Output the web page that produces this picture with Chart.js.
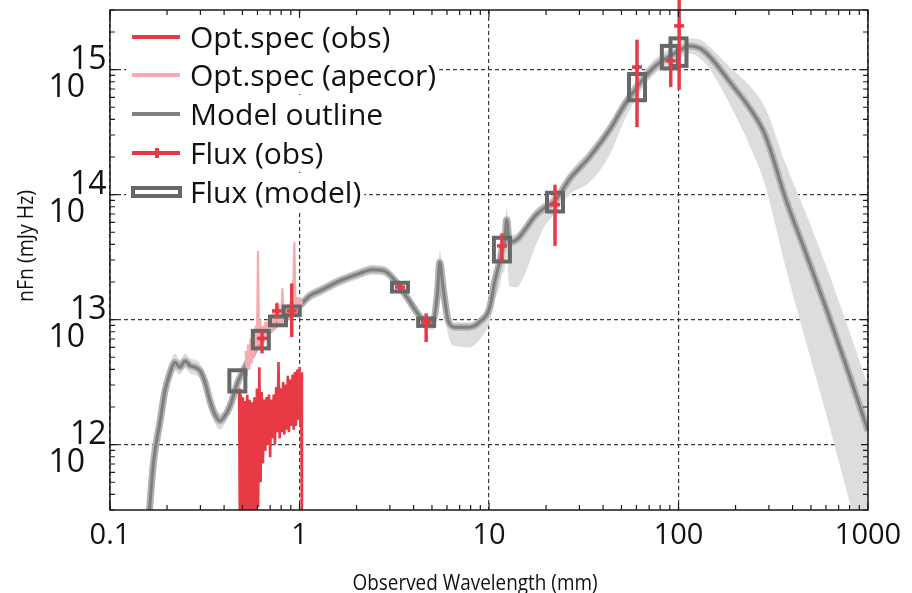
<!DOCTYPE html>
<html>
<head>
<meta charset="utf-8">
<script src="https://cdn.jsdelivr.net/npm/chart.js@4.4.1/dist/chart.umd.min.js"></script>
<style>
html, body { margin: 0; padding: 0; background: #fff; }
canvas { display: block; }
</style>
</head>
<body>
<canvas id="sed" width="912" height="593"></canvas>
<script>
// axis ticks
const xTickValues = [0.1, 1, 10, 100, 1000];
const xTickLabels = ['0.1', '1', '10', '100', '1000'];
const yTickExponents = [12, 13, 14, 15];

const seriesNames = ['Opt.spec (obs)', 'Opt.spec (apecor)', 'Model outline', 'Flux (obs)', 'Flux (model)'];

// model SED (wavelength in mm, log10 of nFn), with upper / lower band width in dex
const modelWl = [0.160, 0.170, 0.184, 0.195, 0.207, 0.220, 0.234, 0.249, 0.265, 0.280, 0.299, 0.317, 0.337, 0.358, 0.380, 0.404, 0.430, 0.470, 0.520, 0.580, 0.625, 0.700, 0.770, 0.850, 0.910, 1.00, 1.13, 1.28, 1.63, 2.08, 2.40, 2.80, 3.20, 3.39, 3.80, 4.30, 4.66, 5.10, 5.35, 5.50, 5.70, 6.10, 6.60, 7.90, 8.90, 10.1, 10.7, 11.4, 11.7, 12.1, 12.4, 12.8, 14.0, 15.5, 17.5, 19.5, 22.3, 26.5, 33.9, 43.4, 52.0, 60.4, 70.0, 80.0, 91.0, 100, 115, 130, 147, 187, 238, 286, 369, 465, 608, 784, 1000];
const modelLogF = [11.40, 11.87, 12.19, 12.43, 12.57, 12.66, 12.62, 12.67, 12.63, 12.62, 12.59, 12.50, 12.35, 12.24, 12.19, 12.23, 12.31, 12.49, 12.63, 12.76, 12.84, 12.92, 12.98, 13.03, 13.07, 13.11, 13.19, 13.23, 13.31, 13.37, 13.40, 13.39, 13.31, 13.26, 13.15, 13.03, 12.98, 13.00, 13.22, 13.46, 13.28, 12.99, 12.94, 12.94, 12.98, 13.10, 13.30, 13.47, 13.56, 13.62, 13.80, 13.62, 13.64, 13.72, 13.83, 13.89, 13.95, 14.12, 14.30, 14.52, 14.72, 14.86, 14.98, 15.06, 15.11, 15.15, 15.19, 15.17, 15.10, 14.90, 14.69, 14.48, 13.96, 13.55, 13.07, 12.59, 12.11];
const modelUp = [0.06, 0.06, 0.06, 0.06, 0.07, 0.07, 0.06, 0.06, 0.06, 0.06, 0.06, 0.06, 0.06, 0.06, 0.06, 0.05, 0.05, 0.05, 0.05, 0.05, 0.05, 0.04, 0.04, 0.04, 0.04, 0.04, 0.04, 0.04, 0.04, 0.04, 0.04, 0.04, 0.04, 0.04, 0.04, 0.04, 0.04, 0.05, 0.08, 0.10, 0.08, 0.05, 0.04, 0.04, 0.04, 0.05, 0.08, 0.08, 0.08, 0.10, 0.10, 0.06, 0.05, 0.05, 0.05, 0.05, 0.06, 0.06, 0.06, 0.06, 0.06, 0.06, 0.06, 0.06, 0.06, 0.06, 0.06, 0.07, 0.08, 0.12, 0.18, 0.22, 0.28, 0.32, 0.34, 0.35, 0.36];
const modelDn = [0.06, 0.06, 0.07, 0.07, 0.07, 0.07, 0.06, 0.06, 0.06, 0.06, 0.06, 0.06, 0.06, 0.07, 0.07, 0.06, 0.05, 0.05, 0.05, 0.05, 0.05, 0.04, 0.04, 0.04, 0.04, 0.04, 0.04, 0.04, 0.04, 0.04, 0.04, 0.04, 0.04, 0.04, 0.05, 0.05, 0.06, 0.08, 0.10, 0.10, 0.10, 0.12, 0.15, 0.16, 0.14, 0.12, 0.15, 0.20, 0.20, 0.22, 0.30, 0.35, 0.38, 0.35, 0.25, 0.15, 0.10, 0.12, 0.20, 0.20, 0.12, 0.08, 0.06, 0.06, 0.06, 0.06, 0.06, 0.08, 0.10, 0.18, 0.30, 0.40, 0.55, 0.70, 0.85, 1.00, 1.10];

// optical spectrum, observed
const specObsWl = [0.480, 0.485, 0.490, 0.496, 0.502, 0.508, 0.515, 0.522, 0.530, 0.537, 0.545, 0.553, 0.561, 0.569, 0.578, 0.587, 0.596, 0.605, 0.614, 0.623, 0.632, 0.641, 0.650, 0.660, 0.670, 0.680, 0.690, 0.700, 0.710, 0.720, 0.731, 0.742, 0.753, 0.764, 0.775, 0.786, 0.797, 0.808, 0.820, 0.832, 0.844, 0.856, 0.868, 0.880, 0.893, 0.906, 0.919, 0.932, 0.945, 0.958, 0.972, 0.986, 1.000, 1.010, 1.020, 1.030];
const specObsLogF = [12.45, 11.2, 12.40, 11.3, 12.38, 11.2, 12.35, 11.4, 12.40, 11.3, 12.36, 11.3, 12.34, 11.4, 12.38, 11.2, 12.45, 11.5, 12.62, 11.7, 12.42, 11.85, 12.36, 11.95, 12.38, 12.0, 12.40, 11.9, 12.36, 12.05, 12.40, 12.0, 12.46, 12.1, 12.66, 12.05, 12.45, 12.1, 12.50, 12.08, 12.48, 12.12, 12.55, 12.1, 12.52, 12.15, 12.56, 12.12, 12.58, 12.15, 12.60, 12.2, 12.62, 12.15, 12.58, 11.2];

// optical spectrum, aperture corrected
const specApeWl = [0.520, 0.527, 0.535, 0.543, 0.552, 0.560, 0.569, 0.578, 0.587, 0.596, 0.604, 0.612, 0.621, 0.630, 0.640, 0.650, 0.660, 0.670, 0.681, 0.692, 0.703, 0.714, 0.726, 0.738, 0.750, 0.762, 0.774, 0.786, 0.799, 0.812, 0.825, 0.838, 0.852, 0.866, 0.880, 0.894, 0.909, 0.924, 0.939, 0.954, 0.970, 0.986, 1.000, 1.015, 1.030];
const specApeLogF = [12.75, 12.55, 12.80, 12.60, 12.85, 12.65, 12.92, 12.70, 12.95, 12.75, 13.55, 12.80, 13.00, 12.80, 12.95, 12.82, 12.98, 12.85, 13.00, 12.88, 13.02, 12.90, 13.06, 12.92, 13.05, 13.14, 12.95, 13.05, 12.95, 13.25, 12.98, 13.10, 13.00, 13.12, 13.00, 13.14, 13.02, 13.15, 13.62, 13.05, 13.18, 13.05, 13.18, 13.08, 13.15];

// photometry with error bars
const fluxWl = [0.634, 0.76, 0.91, 3.39, 4.66, 11.7, 22.3, 60.4, 91.0, 100.8];
const fluxLogF = [12.85, 13.07, 13.07, 13.26, 12.98, 13.59, 13.92, 15.02, 15.07, 15.35];
const fluxLogLo = [12.73, 13.01, 12.86, 13.24, 12.82, 13.46, 13.59, 14.54, 14.86, 14.84];
const fluxLogHi = [12.91, 13.13, 13.29, 13.28, 13.05, 13.69, 14.08, 15.24, 15.10, 15.56];

// model photometry (box centre and half height in dex)
const modelFluxWl = [0.47, 0.625, 0.77, 0.91, 3.39, 4.66, 11.7, 22.3, 60.4, 90.0, 100.0];
const modelFluxLogF = [12.51, 12.84, 12.99, 13.07, 13.26, 12.98, 13.56, 13.94, 14.86, 15.10, 15.14];
const modelFluxHalf = [0.085, 0.07, 0.035, 0.035, 0.035, 0.03, 0.095, 0.075, 0.105, 0.09, 0.11];

const RED = '#e73a44';
const PINK = '#f4acb0';
const BOXGREY = '#676767';
const FONT = '"Open Sans", "Noto Sans", sans-serif';

function toPoints(xs, logs, shift) {
    return xs.map((v, i) => ({ x: v, y: Math.pow(10, logs[i] + (shift ? shift[i] : 0)) }));
}
const negDn = modelDn.map(d => -d);

function logTicks(min, max) {
    const out = [];
    for (let e = Math.floor(Math.log10(min)); e <= Math.ceil(Math.log10(max)); e++) {
        for (let m = 1; m < 10; m++) {
            const v = m * Math.pow(10, e);
            if (v >= min * 0.999 && v <= max * 1.001) out.push({ value: v, major: m === 1 });
        }
    }
    return out;
}
const isDecade = v => Math.abs(Math.log10(v) - Math.round(Math.log10(v))) < 1e-6;

const sedDecor = {
    id: 'sedDecor',
    afterDatasetsDraw(chart) {
        const { ctx, chartArea: a, scales: { x, y } } = chart;
        ctx.save();
        // model fluxes as hollow boxes
        ctx.save();
        ctx.beginPath();
        ctx.rect(a.left, a.top, a.right - a.left, a.bottom - a.top);
        ctx.clip();
        ctx.strokeStyle = BOXGREY;
        ctx.lineWidth = 4;
        for (let i = 0; i < modelFluxWl.length; i++) {
            const px = x.getPixelForValue(modelFluxWl[i]);
            const top = y.getPixelForValue(Math.pow(10, modelFluxLogF[i] + modelFluxHalf[i]));
            const bot = y.getPixelForValue(Math.pow(10, modelFluxLogF[i] - modelFluxHalf[i]));
            ctx.strokeRect(px - 8, top, 16, bot - top);
        }
        ctx.restore();
        // error bars on the observed fluxes
        ctx.strokeStyle = RED;
        ctx.lineWidth = 3.5;
        for (let i = 0; i < fluxWl.length; i++) {
            const px = x.getPixelForValue(fluxWl[i]);
            const top = Math.max(0, y.getPixelForValue(Math.pow(10, fluxLogHi[i])));
            const bot = y.getPixelForValue(Math.pow(10, fluxLogLo[i]));
            ctx.beginPath();
            ctx.moveTo(px, top);
            ctx.lineTo(px, bot);
            ctx.stroke();
            const py = y.getPixelForValue(Math.pow(10, fluxLogF[i]));
            ctx.beginPath();
            ctx.moveTo(px - 5, py);
            ctx.lineTo(px + 5, py);
            ctx.stroke();
        }
        ctx.restore();
    },
    afterDraw(chart) {
        const { ctx, chartArea: a, scales: { x, y } } = chart;
        ctx.save();
        // frame
        ctx.strokeStyle = '#1a1a1a';
        ctx.lineWidth = 1.5;
        ctx.strokeRect(a.left, a.top, a.right - a.left, a.bottom - a.top);
        // inward ticks on all four sides
        ctx.lineWidth = 1.2;
        ctx.beginPath();
        x.ticks.forEach(t => {
            const px = x.getPixelForValue(t.value);
            const len = isDecade(t.value) ? 7 : 5;
            ctx.moveTo(px, a.bottom); ctx.lineTo(px, a.bottom - len);
            ctx.moveTo(px, a.top); ctx.lineTo(px, a.top + len);
        });
        y.ticks.forEach(t => {
            const py = y.getPixelForValue(t.value);
            const len = isDecade(t.value) ? 7 : 5;
            ctx.moveTo(a.left, py); ctx.lineTo(a.left + len, py);
            ctx.moveTo(a.right, py); ctx.lineTo(a.right - len, py);
        });
        ctx.stroke();

        // tick labels
        ctx.fillStyle = '#111';
        ctx.font = '29px ' + FONT;
        ctx.textAlign = 'center';
        ctx.textBaseline = 'alphabetic';
        xTickValues.forEach((v, i) => {
            ctx.fillText(xTickLabels[i], x.getPixelForValue(v), 544);
        });
        ctx.font = '32px ' + FONT;
        yTickExponents.forEach(e => {
            const py = y.getPixelForValue(Math.pow(10, e));
            ctx.textAlign = 'right';
            ctx.fillText('10', 85, py + 27);
            ctx.textAlign = 'left';
            ctx.fillText(String(e), 70, py - 1);
        });

        // axis titles
        ctx.font = '21px ' + FONT;
        ctx.textAlign = 'center';
        const xt = 'Observed Wavelength (mm)';
        const w = ctx.measureText(xt).width;
        ctx.save();
        ctx.translate(475, 590);
        ctx.scale(245 / w, 1);
        ctx.fillText(xt, 0, 0);
        ctx.restore();
        ctx.save();
        ctx.font = '21px ' + FONT;
        ctx.translate(27, 246);
        ctx.rotate(-Math.PI / 2);
        ctx.textBaseline = 'middle';
        const yt = 'nFn (mJy Hz)';
        const yw = ctx.measureText(yt).width;
        ctx.scale(112 / yw, 1);
        ctx.fillText(yt, 0, 0);
        ctx.restore();

        // legend inside the plot
        const rows = [37, 75, 114, 153, 192];
        ctx.font = '30px ' + FONT;
        ctx.textAlign = 'left';
        ctx.textBaseline = 'alphabetic';
        seriesNames.forEach((name, i) => {
            const ry = rows[i];
            const tw = ctx.measureText(name).width;
            ctx.fillStyle = '#fff';
            ctx.fillRect(126, ry - 19, 190 + tw + 3 - 126, 38);
            ctx.lineCap = 'butt';
            if (i < 4) {
                ctx.strokeStyle = [RED, PINK, '#808080', RED][i];
                ctx.lineWidth = 4;
                ctx.beginPath();
                ctx.moveTo(132, ry); ctx.lineTo(180, ry);
                ctx.stroke();
                if (i === 3) {
                    ctx.lineWidth = 4;
                    ctx.beginPath();
                    ctx.moveTo(157, ry - 5); ctx.lineTo(157, ry + 5);
                    ctx.stroke();
                }
            } else {
                ctx.strokeStyle = BOXGREY;
                ctx.lineWidth = 4;
                ctx.strokeRect(133, ry - 4, 47, 8);
            }
            ctx.fillStyle = '#111';
            ctx.fillText(name, 190, ry + 11);
        });
        ctx.restore();
    }
};

new Chart(document.getElementById('sed'), {
    type: 'line',
    data: {
        datasets: [
            {
                label: 'band hi',
                data: toPoints(modelWl, modelLogF, modelUp),
                borderWidth: 0, pointRadius: 0,
                backgroundColor: '#dddddd',
                fill: '+1',
                cubicInterpolationMode: 'monotone',
                order: 20
            },
            {
                label: 'band lo',
                data: toPoints(modelWl, modelLogF, negDn),
                borderWidth: 0, pointRadius: 0,
                fill: false,
                cubicInterpolationMode: 'monotone',
                order: 20
            },
            {
                label: 'model halo',
                data: toPoints(modelWl, modelLogF),
                borderColor: '#b2b2b2', borderWidth: 7, pointRadius: 0,
                cubicInterpolationMode: 'monotone',
                fill: false, order: 15
            },
            {
                label: seriesNames[2],
                data: toPoints(modelWl, modelLogF),
                borderColor: '#7f7f7f', borderWidth: 3, pointRadius: 0,
                cubicInterpolationMode: 'monotone',
                fill: false, order: 14
            },
            {
                label: seriesNames[1],
                data: toPoints(specApeWl, specApeLogF),
                borderColor: PINK, borderWidth: 2.2, pointRadius: 0,
                tension: 0, fill: false, order: 10
            },
            {
                label: seriesNames[0],
                data: toPoints(specObsWl, specObsLogF),
                borderColor: RED, borderWidth: 2.6, pointRadius: 0,
                tension: 0, fill: false, order: 9
            },
            {
                label: seriesNames[3],
                data: toPoints(fluxWl, fluxLogF),
                showLine: false,
                pointStyle: 'rect', pointRadius: 2.5,
                backgroundColor: RED, borderColor: RED, borderWidth: 1,
                order: 5
            }
        ]
    },
    options: {
        responsive: false,
        animation: false,
        events: [],
        layout: { padding: { top: 10, right: 44, left: 0, bottom: 0 } },
        plugins: { legend: { display: false }, tooltip: { enabled: false } },
        scales: {
            x: {
                type: 'logarithmic',
                min: 0.1, max: 1000,
                afterBuildTicks: s => { s.ticks = logTicks(0.1, 1000); },
                afterFit: s => { s.height = 83; },
                ticks: { display: false, autoSkip: false },
                grid: {
                    drawTicks: false,
                    color: c => (c.tick && isDecade(c.tick.value)) ? '#3a3a3a' : 'rgba(0,0,0,0)',
                    lineWidth: 1.2
                },
                border: { display: false, dash: [4, 3] }
            },
            y: {
                type: 'logarithmic',
                min: 3e11, max: 3e15,
                afterBuildTicks: s => { s.ticks = logTicks(3e11, 3e15); },
                afterFit: s => { s.width = 110; },
                ticks: { display: false, autoSkip: false },
                grid: {
                    drawTicks: false,
                    color: c => (c.tick && isDecade(c.tick.value)) ? '#3a3a3a' : 'rgba(0,0,0,0)',
                    lineWidth: 1.2
                },
                border: { display: false, dash: [4, 3] }
            }
        }
    },
    plugins: [sedDecor]
});
</script>
</body>
</html>
